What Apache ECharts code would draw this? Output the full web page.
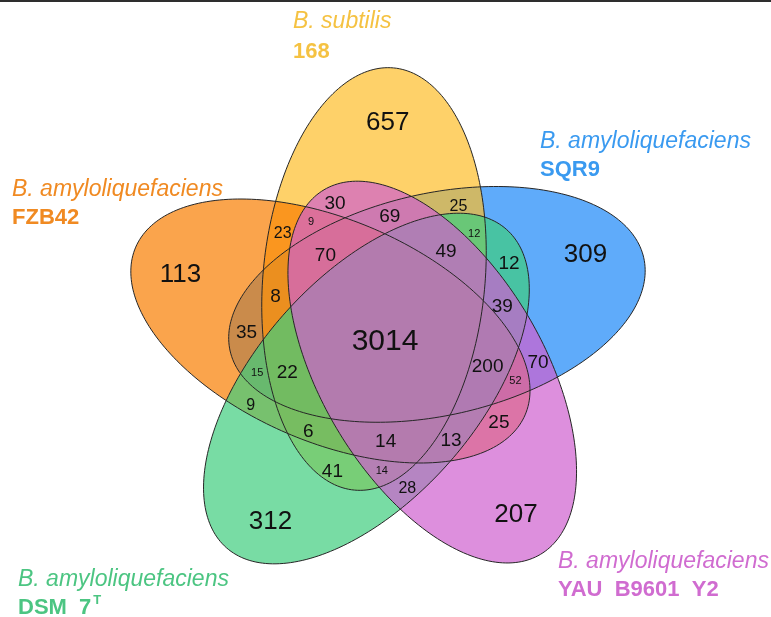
<!DOCTYPE html>
<html>
<head>
<meta charset="utf-8">
<title>Five-set Venn</title>
<script src="https://cdn.jsdelivr.net/npm/echarts@6/dist/echarts.min.js"></script>
<style>
html,body{margin:0;padding:0;background:#ffffff;}
#chart{width:771px;height:617px;}
</style>
</head>
<body>
<div id="chart"></div>
<script>
// ---------------- data ----------------
const setKeys      = ['Y', 'B', 'P', 'G', 'O'];
const setSpecies   = ['B. subtilis', 'B. amyloliquefaciens', 'B. amyloliquefaciens', 'B. amyloliquefaciens', 'B. amyloliquefaciens'];
const setStrains   = ['168', 'SQR9', 'YAU  B9601  Y2', 'DSM  7', 'FZB42'];
const setStrainSup = ['', '', '', 'T', ''];

// each region = the sets it belongs to (letters from setKeys)
const regionKeys = ['Y', 'B', 'P', 'G', 'O', 'YBPGO',
  'YP', 'YBP', 'YB', 'YO', 'YPO', 'YBG', 'YBPO', 'YBPG', 'BG', 'YBO',
  'BO', 'BPG', 'BGO', 'YBGO', 'BPGO', 'BP', 'BPO', 'GO', 'YGO', 'YPGO',
  'PGO', 'PO', 'YG', 'YPG', 'PG'];
const regionCounts = [657, 309, 207, 312, 113, 3014,
  30, 69, 25, 23, 9, 12, 70, 49, 12, 8,
  35, 39, 15, 22, 200, 70, 52, 9, 6, 14,
  13, 25, 41, 14, 28];

// ---------------- layout & style ----------------
const W = 771, H = 617;
const FONT = '"Liberation Sans", Arial, Helvetica, sans-serif';
const GEOM = { cx: 388, cy: 335, offX: -14, offY: -56, a: 212, b: 111, angle0: 95.3, step: 72 };
const setFill = { Y: [254, 190, 41], B: [27, 136, 248], P: [207, 95, 207], G: [62, 205, 126], O: [248, 126, 0] };
const fillAlpha = 0.7;
const drawOrder = ['B', 'Y', 'O', 'G', 'P'];
const titleColor = { Y: '#F5C242', B: '#3A9AF0', P: '#D06CD0', G: '#4CC582', O: '#F08A22' };
const titlePos = { Y: [293, 7], B: [540, 128], O: [12, 176], G: [18, 566], P: [558, 548] };
const titleLine = { Y: 30, B: 28, O: 28, G: 28, P: 28 };
const centroidWeight = 0.5;
// label offsets (px), like label.offset, relative to the computed region anchor
const labelOffset = {
  Y: [4, -10], O: [-16, 0], B: [7, -14], P: [7, 20], G: [-1, 23], YBPGO: [-3, 7],
  YP: [-14, 5], YO: [0, 9], YB: [-3, 6], YBPO: [7, 0], YBPG: [5, 8], BPGO: [-4, 10],
  YPGO: [-11, 2], PGO: [-6, 9], PG: [-9, 9], YG: [-6, 4], YGO: [-6, 2], BPG: [0, 6],
  GO: [0, 5], BG: [2, 6], YBGO: [-4, -4], BO: [0, 5], YBG: [4, 7]
};
const sizeOverride = { YPO: 11, YBG: 11, BGO: 11, BPO: 11, YPG: 11, YB: 16, YO: 16, GO: 16, PG: 16 };
function labelSize(key) {
  if (sizeOverride[key]) return sizeOverride[key];
  if (key.length === 1) return 26;
  if (key.length === 5) return 30;
  return 19;
}

// ---------------- geometry (rotational 5-ellipse Venn) ----------------
const ells = setKeys.map((k, i) => {
  const r = i * GEOM.step * Math.PI / 180;
  const c = Math.cos(r), s = Math.sin(r);
  const th = (GEOM.angle0 + i * GEOM.step) * Math.PI / 180;
  return {
    cx: GEOM.cx + GEOM.offX * c - GEOM.offY * s,
    cy: GEOM.cy + GEOM.offX * s + GEOM.offY * c,
    c: Math.cos(th), s: Math.sin(th)
  };
});
function maskAt(x, y) {
  let m = 0;
  for (let i = 0; i < 5; i++) {
    const e = ells[i];
    const dx = x - e.cx, dy = y - e.cy;
    const u = dx * e.c + dy * e.s, v = -dx * e.s + dy * e.c;
    if ((u * u) / (GEOM.a * GEOM.a) + (v * v) / (GEOM.b * GEOM.b) < 1) m |= (1 << i);
  }
  return m;
}
function keyMask(key) {
  let m = 0;
  for (const ch of key) m |= (1 << setKeys.indexOf(ch));
  return m;
}
// label anchor: blend of the most interior point and the centroid of each region
function regionCentres() {
  const st = 2, nx = Math.ceil(W / st), ny = Math.ceil(H / st);
  const mk = new Int32Array(nx * ny), d = new Float32Array(nx * ny);
  for (let j = 0; j < ny; j++) for (let i = 0; i < nx; i++) mk[j * nx + i] = maskAt(i * st, j * st);
  for (let j = 0; j < ny; j++) for (let i = 0; i < nx; i++) {
    const id = j * nx + i, m = mk[id];
    let edge = (i === 0 || j === 0 || i === nx - 1 || j === ny - 1);
    if (!edge) edge = mk[id - 1] !== m || mk[id + 1] !== m || mk[id - nx] !== m || mk[id + nx] !== m;
    d[id] = edge ? 0.5 : 1e9;
  }
  const R2 = Math.SQRT2;
  for (let j = 1; j < ny; j++) for (let i = 1; i < nx - 1; i++) {
    const id = j * nx + i;
    d[id] = Math.min(d[id], d[id - 1] + 1, d[id - nx] + 1, d[id - nx - 1] + R2, d[id - nx + 1] + R2);
  }
  for (let j = ny - 2; j >= 0; j--) for (let i = nx - 2; i >= 1; i--) {
    const id = j * nx + i;
    d[id] = Math.min(d[id], d[id + 1] + 1, d[id + nx] + 1, d[id + nx + 1] + R2, d[id + nx - 1] + R2);
  }
  const best = {}, sum = {};
  for (let id = 0; id < nx * ny; id++) {
    const m = mk[id];
    if (!m) continue;
    const x = (id % nx) * st, y = Math.floor(id / nx) * st;
    if (!best[m] || d[id] > best[m].d) best[m] = { d: d[id], x, y };
    if (!sum[m]) sum[m] = { x: 0, y: 0, n: 0 };
    sum[m].x += x; sum[m].y += y; sum[m].n++;
  }
  return regionKeys.map(k => {
    const m = keyMask(k), b = best[m], s = sum[m];
    if (!b) return [0, 0];
    const bx = b.x + (s.x / s.n - b.x) * centroidWeight;
    const by = b.y + (s.y / s.n - b.y) * centroidWeight;
    return maskAt(bx, by) === m ? [bx, by] : [b.x, b.y];
  });
}
const centres = regionCentres();

function ellipsePoints(idx, api) {
  const e = ells[idx], pts = [];
  for (let n = 0; n < 240; n++) {
    const t = n / 240 * Math.PI * 2;
    const u = GEOM.a * Math.cos(t), v = GEOM.b * Math.sin(t);
    pts.push(api.coord([e.cx + u * e.c - v * e.s, e.cy + u * e.s + v * e.c]));
  }
  return pts;
}
const ellData = drawOrder.map(k => { const i = setKeys.indexOf(k); return [ells[i].cx, ells[i].cy, i]; });

// ---------------- titles ----------------
const titles = setKeys.map((k, i) => ({
  left: titlePos[k][0], top: titlePos[k][1], padding: 0,
  text: '{i|' + setSpecies[i] + '}\n{b|' + setStrains[i] + '}' + (setStrainSup[i] ? '{s|' + setStrainSup[i] + '}' : ''),
  textStyle: {
    rich: {
      i: { fontFamily: FONT, fontSize: 23, fontStyle: 'italic', fontWeight: 'normal', color: titleColor[k], lineHeight: titleLine[k] },
      b: { fontFamily: FONT, fontSize: 22, fontWeight: 'bold', color: titleColor[k], lineHeight: titleLine[k] },
      s: { fontFamily: FONT, fontSize: 13, fontWeight: 'bold', color: titleColor[k], lineHeight: 20, verticalAlign: 'top', padding: [0, 0, 0, 2] }
    }
  }
}));

const chart = echarts.init(document.getElementById('chart'), null, { renderer: 'canvas' });
chart.setOption({
  animation: false,
  backgroundColor: '#ffffff',
  title: titles,
  grid: { left: 0, right: 0, top: 0, bottom: 0 },
  xAxis: { type: 'value', min: 0, max: W, show: false },
  yAxis: { type: 'value', min: 0, max: H, inverse: true, show: false },
  graphic: [{ type: 'rect', left: 0, top: 0, shape: { width: W, height: 2 }, style: { fill: '#2e2e2e' }, z: 100 }],
  series: [
    {
      type: 'custom', name: 'fills', z: 1, encode: { x: 0, y: 1 }, data: ellData,
      renderItem: (params, api) => {
        const idx = api.value(2), c = setFill[setKeys[idx]];
        return { type: 'polygon', shape: { points: ellipsePoints(idx, api) },
          style: { fill: 'rgba(' + c[0] + ',' + c[1] + ',' + c[2] + ',' + fillAlpha + ')', stroke: null } };
      }
    },
    {
      type: 'custom', name: 'outlines', z: 2, encode: { x: 0, y: 1 }, data: ellData,
      renderItem: (params, api) => ({
        type: 'polygon', shape: { points: ellipsePoints(api.value(2), api) },
        style: { fill: null, stroke: '#262626', lineWidth: 1 }
      })
    },
    {
      type: 'custom', name: 'counts', z: 3, encode: { x: 0, y: 1 },
      data: centres.map((p, i) => [p[0], p[1], i]),
      renderItem: (params, api) => {
        const i = api.value(2), key = regionKeys[i];
        const off = labelOffset[key] || [0, 0];
        const p = api.coord([api.value(0), api.value(1)]);
        return { type: 'text', x: p[0] + off[0], y: p[1] + off[1],
          style: { text: String(regionCounts[i]), fill: '#111111', fontFamily: FONT,
            fontSize: labelSize(key), align: 'center', verticalAlign: 'middle' } };
      }
    }
  ]
});
</script>
</body>
</html>
